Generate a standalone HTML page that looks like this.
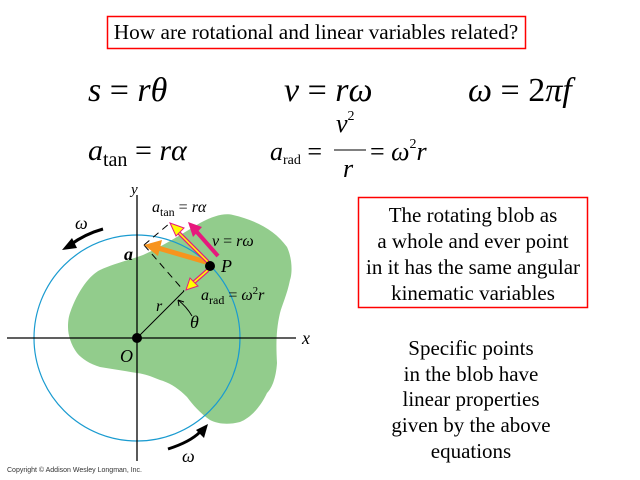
<!DOCTYPE html>
<html><head><style>
body{margin:0;background:#fff;}
svg{display:block;}
.s{font-family:"Liberation Serif",serif;}
</style></head><body>
<svg width="640" height="480" viewBox="0 0 640 480" xmlns="http://www.w3.org/2000/svg" class="s">
<rect width="640" height="480" fill="#fff"/>
<rect x="107.5" y="16.5" width="418" height="32" fill="none" stroke="#f00" stroke-width="1.5"/>
<text x="316" y="39" font-size="21.3" text-anchor="middle">How are rotational and linear variables related?</text>

<g font-size="34" font-style="italic">
<text x="88" y="101">s <tspan font-style="normal">=</tspan> rθ</text>
<text x="284" y="101">v <tspan font-style="normal">=</tspan> rω</text>
<text x="468" y="101">ω <tspan font-style="normal">= 2</tspan>πf</text>
</g>
<g font-size="30" font-style="italic">
<text x="88" y="160">a<tspan font-size="20" font-style="normal" dy="6">tan</tspan><tspan dy="-6" font-style="normal"> = </tspan>rα</text>
<text x="270" y="160" font-size="26">a<tspan font-size="14" font-style="normal" dy="4">rad</tspan><tspan dy="-4" font-style="normal"> =</tspan></text>
<text x="336" y="132" font-size="26">v<tspan font-size="14" font-style="normal" dy="-12">2</tspan></text>
<line x1="334" y1="150" x2="366" y2="150" stroke="#000" stroke-width="1"/>
<text x="343" y="177" font-size="26">r</text>
<text x="370" y="160" font-size="26"><tspan font-style="normal">= </tspan>ω<tspan font-size="14" font-style="normal" dy="-12">2</tspan><tspan dy="12">r</tspan></text>
</g>

<rect x="358.5" y="197.5" width="229" height="110" fill="none" stroke="#f00" stroke-width="1.5"/>
<g font-size="21" text-anchor="middle">
<text x="473" y="222">The rotating blob as</text>
<text x="473" y="248">a whole and ever point</text>
<text x="473" y="274">in it has the same angular</text>
<text x="473" y="300">kinematic variables</text>
<text x="471" y="355">Specific points</text>
<text x="471" y="381">in the blob have</text>
<text x="471" y="406">linear properties</text>
<text x="471" y="432">given by the above</text>
<text x="471" y="458">equations</text>
</g>

<!-- blob -->
<path d="M70,313 C78,290 90,275 100,270 C115,263 130,260 143,255 C165,245 185,232 200,223 C215,215 225,213 233,215 C255,220 275,230 287,247 C293,260 292,275 290,280 C287,295 282,305 280,313 C276,330 276,345 277,363 C276,378 272,388 267,393 C260,408 250,418 240,422 C228,425 218,424 210,420 C200,413 193,405 187,397 C178,388 170,383 160,380 C150,376 145,374 137,373 C125,371 112,369 100,367 C90,364 82,359 77,353 C71,345 68,335 68,327 C68,320 69,316 70,313 Z" fill="#92cc8c"/>
<circle cx="137" cy="338" r="103" fill="none" stroke="#1a9bd0" stroke-width="1.2"/>
<line x1="7" y1="338" x2="296" y2="338" stroke="#000" stroke-width="1.3"/>
<line x1="137" y1="195" x2="137" y2="461" stroke="#000" stroke-width="1.3"/>
<line x1="137" y1="338" x2="184" y2="291" stroke="#000" stroke-width="1"/>
<path d="M144,245 L184,291" stroke="#000" stroke-dasharray="7,5" fill="none"/>
<path d="M144,245 L170,223" stroke="#000" stroke-dasharray="7,5" fill="none"/>
<path d="M192,316 A55,55 0 0 0 178,300" fill="none" stroke="#000"/>
<path d="M178,300 l1,6 M178,300 l6,2" stroke="#000"/>
<!-- arrows -->
<line x1="206" y1="262" x2="158" y2="248" stroke="#f7941d" stroke-width="5"/>
<polygon points="144,245 162,240 158,256" fill="#f7941d"/>
<line x1="218" y1="256" x2="196" y2="231" stroke="#e6197d" stroke-width="4"/>
<polygon points="188,222 202,227 193,237" fill="#e6197d"/>
<line x1="208" y1="262" x2="176" y2="230" stroke="#e6197d" stroke-width="4"/>
<line x1="208" y1="262" x2="176" y2="230" stroke="#ff0" stroke-width="1.5"/>
<polygon points="170,223 184,228 176,236" fill="#ff0" stroke="#e6197d"/>
<line x1="208" y1="270" x2="192" y2="284" stroke="#e6197d" stroke-width="4"/>
<line x1="208" y1="270" x2="192" y2="284" stroke="#ff0" stroke-width="1.5"/>
<polygon points="186,290 190,278 198,286" fill="#ff0" stroke="#e6197d"/>
<circle cx="210" cy="266" r="5" fill="#000"/>
<circle cx="137" cy="338" r="5" fill="#000"/>
<!-- omega arrows -->
<path d="M103,229 Q85,234 70,245" fill="none" stroke="#000" stroke-width="3"/>
<polygon points="62,250 72,238 77,248" fill="#000"/>
<path d="M168,449 Q190,442 200,432" fill="none" stroke="#000" stroke-width="3"/>
<polygon points="208,424 204,438 196,430" fill="#000"/>
<g font-style="italic" font-size="18">
<text x="75" y="229">ω</text>
<text x="182" y="462">ω</text>
<text x="131" y="194" font-size="15">y</text>
<text x="302" y="344">x</text>
<text x="120" y="362">O</text>
<text x="221" y="272">P</text>
<text x="124" y="260" font-weight="bold">a</text>
<text x="156" y="311" font-size="16">r</text>
<text x="190" y="328">θ</text>
<text x="152" y="212" font-size="16">a<tspan font-style="normal" font-size="12" dy="4">tan</tspan><tspan dy="-4" font-style="normal"> = </tspan>rα</text>
<text x="212" y="246" font-size="16">v<tspan font-style="normal"> = </tspan>rω</text>
<text x="201" y="300" font-size="16">a<tspan font-style="normal" font-size="12" dy="4">rad</tspan><tspan dy="-4" font-style="normal"> = </tspan>ω<tspan font-size="11" font-style="normal" dy="-6">2</tspan><tspan dy="6">r</tspan></text>
</g>
<text x="7" y="472" font-family="Liberation Sans,sans-serif" font-size="7" fill="#333">Copyright © Addison Wesley Longman, Inc.</text>
</svg>
</body></html>
